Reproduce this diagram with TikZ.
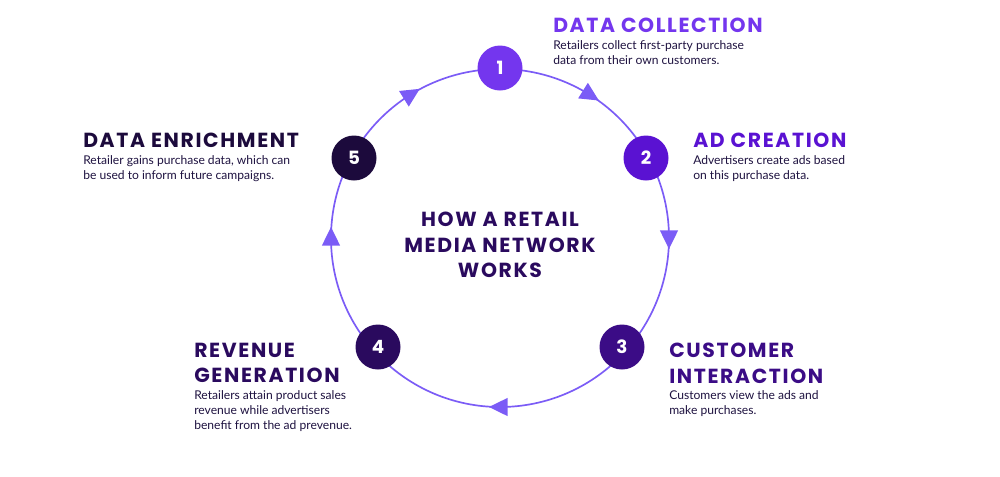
\documentclass[tikz,border=0pt]{standalone}
\usepackage{fontspec}
\setmainfont{Poppins}
\newfontfamily\bodyfont{Lato}
\usetikzlibrary{positioning, calc}
\definecolor{ringc}{HTML}{7B5CF6}
\definecolor{stepa}{HTML}{7436EE}
\definecolor{stepb}{HTML}{5A12D2}
\definecolor{stepc}{HTML}{3B0C86}
\definecolor{stepd}{HTML}{2A0A5E}
\definecolor{stepe}{HTML}{1C0A3C}
\definecolor{inkc}{HTML}{1E1240}

\newlength{\px}\setlength{\px}{0.25mm}
\tikzset{
  stepdot/.style={circle, minimum size=45\px, inner sep=0pt, text=white, font=\bfseries\fontsize{13}{13}\selectfont},
  head/.style={font=\bfseries\fontsize{14.5}{18}\selectfont\addfontfeatures{LetterSpace=8}, inner sep=0pt, anchor=north west, align=left},
  body/.style={font=\bodyfont\fontsize{8.6}{10.5}\selectfont, text=inkc, inner sep=0pt, anchor=north west, align=left},
  tip/.style={fill=ringc, draw=none},
}

\begin{document}
\begin{tikzpicture}[x=0.25mm, y=-0.25mm]
    \useasboundingbox (0,0) rectangle (1000,476);
    \coordinate (O) at (500,238);

    \draw[ringc, line width=1.2pt] (O) circle (169);

    % arrow heads on the ring
    \foreach \ang in {-58, 0, 90, 180, 238} {
        \coordinate (P) at ($(O)+(\ang:169)$);
        \pgfmathsetmacro\dir{\ang+90}
        \fill[tip] ($(P)+(\dir:11)$) -- ($(P)+(\dir+130:12)$) -- ($(P)+(\dir-130:12)$) -- cycle;
    }

    \node[stepdot, fill=stepa] (s1) at (500,68) {1};
    \node[stepdot, fill=stepb] (s2) at (646,158) {2};
    \node[stepdot, fill=stepc] (s3) at (622,347) {3};
    \node[stepdot, fill=stepd] (s4) at (378,347) {4};
    \node[stepdot, fill=stepe] (s5) at (354,158) {5};

    \node[head, text=stepa] (h1) at (553,18) {DATA COLLECTION};
    \node[body, below=7\px of h1.south west, anchor=north west] (b1) {Retailers collect first-party purchase\\data from their own customers.};

    \node[head, text=stepb] (h2) at (693,133) {AD CREATION};
    \node[body, below=7\px of h2.south west, anchor=north west] (b2) {Advertisers create ads based\\on this purchase data.};

    \node[head, text=stepc] (h3) at (669,343) {CUSTOMER\\INTERACTION};
    \node[body, below=7\px of h3.south west, anchor=north west] (b3) {Customers view the ads and\\make purchases.};

    \node[head, text=stepd] (h4) at (194,343) {REVENUE\\GENERATION};
    \node[body, below=7\px of h4.south west, anchor=north west] (b4) {Retailers attain product sales\\revenue while advertisers\\benefit from the ad prevenue.};

    \node[head, text=stepe] (h5) at (83,133) {DATA ENRICHMENT};
    \node[body, below=7\px of h5.south west, anchor=north west] (b5) {Retailer gains purchase data, which can\\be used to inform future campaigns.};

    \node[head, anchor=center, align=center, text=stepd] (ttl) at (500,245) {HOW A RETAIL\\MEDIA NETWORK\\WORKS};
\end{tikzpicture}
\end{document}
